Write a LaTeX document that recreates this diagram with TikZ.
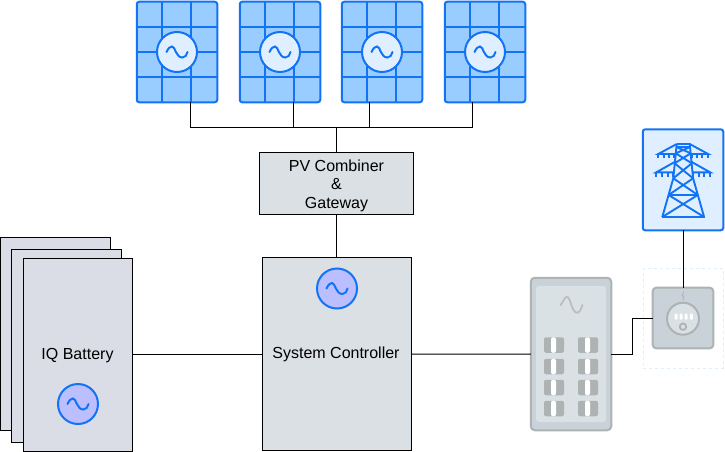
\documentclass[tikz,border=0pt]{standalone}
\usepackage{fontspec}
\setmainfont{Liberation Sans}
\definecolor{bluestroke}{HTML}{1273F5}
\definecolor{panelfill}{HTML}{99CCFF}
\definecolor{paleblue}{HTML}{DFEFFF}
\definecolor{violetfill}{HTML}{BBBFFF}
\definecolor{boxgray}{HTML}{DBE0E4}
\definecolor{batgray}{HTML}{DADDE5}
\definecolor{eqouter}{HTML}{C8D2D8}
\definecolor{eqinner}{HTML}{DAE1E5}
\definecolor{eqstroke}{HTML}{ADB3B3}
\definecolor{dashblue}{HTML}{DDEEFF}
\tikzset{
  wire/.style={draw=black,line width=1pt},
  bluebox/.style={rectangle,draw=bluestroke,line width=2pt,rounded corners=2.5pt,outer sep=0pt,inner sep=0pt},
  pvbox/.style={bluebox,fill=panelfill,minimum width=80.5pt,minimum height=100.5pt},
  grayblock/.style={rectangle,draw=black,line width=1pt,fill=boxgray,outer sep=0pt,inner sep=0pt,align=center,font=\fontsize{16}{18.5}\selectfont},
  batblock/.style={grayblock,fill=batgray,minimum width=109.5pt,minimum height=193pt},
  acdisc/.style={circle,draw=bluestroke,line width=2pt,minimum size=40pt,inner sep=0pt,outer sep=0pt},
  wave/.style={line width=2pt,line cap=round,draw=bluestroke},
  eqbox/.style={rectangle,draw=eqstroke,fill=eqouter,line width=2pt,outer sep=0pt,inner sep=0pt},
  breaker/.style={rectangle,fill=eqstroke,rounded corners=2pt,minimum width=20pt,minimum height=15.5pt,inner sep=0pt,outer sep=0pt},
  breakerslot/.style={rectangle,fill=white,rounded corners=2pt,minimum width=5pt,minimum height=15.5pt,inner sep=0pt,outer sep=0pt},
  towerline/.style={line width=1.9pt,draw=bluestroke}
}
\newcommand{\acwave}[3][bluestroke]{%
  \draw[wave,draw=#1] (#2-10.5,#3) .. controls (#2-8.5,#3-4) and (#2-7,#3-5.5) .. (#2-5,#3-5.5)
    .. controls (#2-1.5,#3-5.5) and (#2-1.5,#3+5.5) .. (#2+5.5,#3+5.5)
    .. controls (#2+8,#3+5.5) and (#2+10,#3+3) .. (#2+10.5,#3);}
\newcommand{\pvpanel}[2]{%
  \node[pvbox] (#1) at (#2,52) {};
  \foreach \gx in {-15,13.5} \draw[bluestroke,line width=2pt] (#2+\gx,2) -- (#2+\gx,102);
  \foreach \gy in {26.7,52,77} \draw[bluestroke,line width=2pt] (#2-40,\gy) -- (#2+40,\gy);
  \node[acdisc,fill=paleblue] (#1disc) at (#2,52) {};
  \acwave{#2}{52}}
\newcommand{\breakerrow}[1]{%
  \node[breaker] (brl#1) at (554,#1) {};
  \node[breakerslot] (sl#1) at (553.5,#1) {};
  \node[breaker] (brr#1) at (588,#1) {};
  \node[breakerslot] (sr#1) at (587.5,#1) {};}
\begin{document}
\begin{tikzpicture}[x=1pt,y=-1pt]
\useasboundingbox (0,0) rectangle (725,452);

% PV panels
\pvpanel{pvone}{177}
\pvpanel{pvtwo}{280}
\pvpanel{pvthree}{382}
\pvpanel{pvfour}{485}

% Combiner and controller
\node[grayblock,minimum width=154.5pt,minimum height=62pt] (comb) at (336.5,183.2) {};
\node[font=\fontsize{16}{18.5}\selectfont,align=center,inner sep=0pt] (combtext) at (336.5,185.4) {PV Combiner\\\&\\Gateway};
\node[grayblock,minimum width=149pt,minimum height=193.5pt] (ctl) at (337,354.2) {};
\node[font=\fontsize{16}{18.5}\selectfont,inner sep=0pt] (ctltext) at (336,354.5) {System Controller};
\node[acdisc,fill=violetfill] (ctldisc) at (337,288.5) {};
\acwave{337}{288.5}

% Batteries
\node[batblock] (batc) at (55.5,333.7) {};
\node[batblock] (batb) at (66.5,345.7) {};
\node[batblock] (bata) at (78,354.7) {};
\node[font=\fontsize{16}{18.5}\selectfont,inner sep=0pt] (battext) at (77.5,355.5) {IQ Battery};
\node[acdisc,fill=violetfill] (batdisc) at (78,404) {};
\acwave{78}{404}

% Distribution panel
\node[eqbox,rounded corners=4pt,minimum width=80.5pt,minimum height=152.5pt] (dist) at (571,354) {};
\node[rectangle,fill=eqinner,rounded corners=3pt,minimum width=70pt,minimum height=136pt,inner sep=0pt] (distinner) at (571,354) {};
\draw[line width=1.8pt,line cap=round,draw=eqstroke!85!white] (560.7,305) .. controls (563,301.5) and (565,297) .. (567,296.7)
  .. controls (570.5,297) and (571.5,312.5) .. (577,312.7) .. controls (579.5,312.7) and (581.5,309) .. (582.3,305);
\breakerrow{345}\breakerrow{366.5}\breakerrow{387.5}\breakerrow{408.5}

% Grid tower
\node[bluebox,fill=paleblue,minimum width=80.5pt,minimum height=101pt] (tower) at (683,179.8) {};
\begin{scope}[shift={(683.2,0)}]
\foreach \sgn in {-1,1}{
 \begin{scope}[xscale=\sgn]
  \draw[towerline] (6.5,144) -- (9.9,178.3) -- (20.9,217);
  \draw[towerline] (6.5,144) -- (24.9,154) -- (8,154);
  \draw[towerline] (8,161.7) -- (26.9,172.3) -- (9.5,172.3);
  \foreach \tx in {24.9,19.2,14.2,8.8} \draw[towerline] (\tx,154) -- (\tx,158);
  \foreach \tx in {26.9,21,15.5,10.3} \draw[towerline] (\tx,172.3) -- (\tx,176.5);
  \draw[towerline] (6.8,147) -- (-7.5,153.3) (7.5,153.3) -- (-8.6,163.3) (8.6,163.3) -- (-9.9,178.3)
     (9.9,178.3) -- (-14.6,195) (14.6,195) -- (-20.9,217);
 \end{scope}}
\draw[towerline] (-6.5,144) -- (6.5,144);
\draw[towerline] (-6.8,147) -- (6.8,147);
\draw[towerline] (-14.6,195) -- (14.6,195);
\draw[towerline] (-21.5,217) -- (21.5,217);
\end{scope}

% Meter
\node[rectangle,draw=dashblue,dashed,line width=1pt,minimum width=79.7pt,minimum height=100pt,inner sep=0pt,outer sep=0pt] (meterzone) at (683.2,318.3) {};
\node[eqbox,rounded corners=3.5pt,minimum width=60.6pt,minimum height=60.6pt] (meter) at (683,318) {};
\node[circle,draw=eqstroke,fill=eqinner,line width=2pt,minimum size=32pt,inner sep=0pt] (meterdial) at (683,318.7) {};
\foreach \mx in {676,681,686,691.3}
  \fill[white,rounded corners=1pt] (\mx-1.5,313.7) rectangle (\mx+1.5,319.7);
\node[circle,draw=eqstroke,line width=1.8pt,minimum size=6.5pt,inner sep=0pt] (meterring) at (683,326.7) {};
\draw[eqstroke,line width=0.8pt] (683.6,291.5) -- (682,296) -- (684,296) -- (682.8,300);

% Connectors
\coordinate (bus) at (336.5,127);
\draw[wire] ([xshift=13.5pt]pvone.south) |- (bus);
\draw[wire] ([xshift=13.5pt]pvtwo.south) |- (bus);
\draw[wire] ([xshift=-12.5pt]pvthree.south) |- (bus);
\draw[wire] ([xshift=-12.5pt]pvfour.south) |- (bus);
\draw[wire] (comb.north) -- (bus);
\draw[wire] (comb.south) -- (comb.south |- ctl.north);
\draw[wire] (bata.east) -- (ctl.west |- bata.east);
\draw[wire] (ctl.east) -- (dist.west);
\coordinate (jog) at (632.5,354);
\draw[wire] (dist.east) -- (jog) |- (meter.west);
\draw[wire] (tower.south) -- (meter.north);
\end{tikzpicture}
\end{document}
